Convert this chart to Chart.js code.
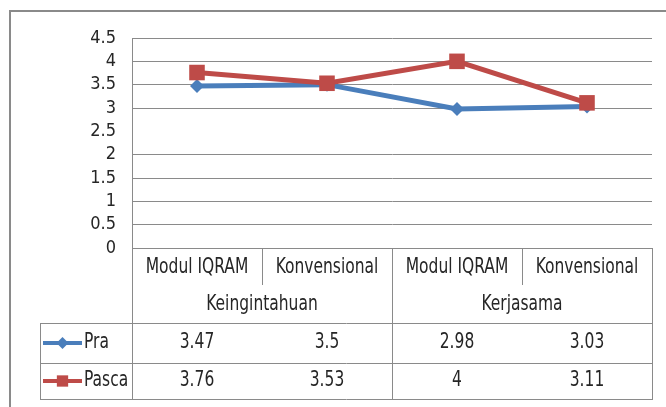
<!DOCTYPE html>
<html><head><meta charset="utf-8">
<script src="https://cdn.jsdelivr.net/npm/chart.js@4/dist/chart.umd.min.js"></script>
<style>html,body{margin:0;padding:0;background:#fff;}#wrap{position:relative;width:666px;height:407px;}</style>
</head><body><div id="wrap"><canvas id="c" width="666" height="407"></canvas></div>
<script>
const groups = ['Keingintahuan', 'Kerjasama'];
const categories = ['Modul IQRAM', 'Konvensional', 'Modul IQRAM', 'Konvensional'];
const seriesNames = ['Pra', 'Pasca'];
const praValues = [3.47, 3.5, 2.98, 3.03];
const pascaValues = [3.76, 3.53, 4, 3.11];
const yTicks = [0, 0.5, 1, 1.5, 2, 2.5, 3, 3.5, 4, 4.5];

const FONT = "'Liberation Sans Narrow','Arial Narrow','DejaVu Sans Condensed',sans-serif";
const BLUE = '#4A7EBB';
const RED = '#BE4B48';
const GRID = '#8a8a8a';
const TEXT = '#262626';
const SQ = 0.82; // horizontal squeeze of table text

function drawMarker(ctx, style, x, y, r, color) {
  ctx.save();
  ctx.fillStyle = color;
  ctx.beginPath();
  if (style === 'rectRot') {
    ctx.moveTo(x - r, y); ctx.lineTo(x, y - r); ctx.lineTo(x + r, y); ctx.lineTo(x, y + r); ctx.closePath();
  } else {
    const s = Math.SQRT1_2 * r;
    ctx.rect(x - s, y - s, 2 * s, 2 * s);
  }
  ctx.fill();
  ctx.restore();
}

function squeezedText(ctx, txt, x, y) {
  ctx.save();
  ctx.translate(x, y);
  ctx.scale(SQ, 1);
  ctx.fillText(txt, 0, 0);
  ctx.restore();
}

const tablePlugin = {
  id: 'tablePlugin',
  beforeDraw(chart) {
    const ctx = chart.ctx;
    ctx.save();
    ctx.strokeStyle = GRID;
    ctx.lineWidth = 2;
    ctx.strokeRect(10, 11, 720, 480);
    ctx.restore();
  },
  afterDraw(chart) {
    const ctx = chart.ctx;
    const a = chart.chartArea;
    const x = chart.scales.x;
    const n = categories.length;
    const half = (x.getPixelForValue(1) - x.getPixelForValue(0)) / 2;
    const edges = [];
    for (let i = 0; i < n; i++) edges.push(Math.round(x.getPixelForValue(i) - half));
    edges.push(Math.round(x.getPixelForValue(n - 1) + half));
    const top = Math.round(a.bottom);
    const catBottom = top + 37, grpBottom = top + 75, praBottom = top + 115, pasBottom = top + 151;
    const legLeft = 40;

    ctx.save();
    ctx.strokeStyle = GRID;
    ctx.lineWidth = 1;
    const h = (x1, x2, y) => { ctx.beginPath(); ctx.moveTo(x1, y + 0.5); ctx.lineTo(x2, y + 0.5); ctx.stroke(); };
    const v = (xx, y1, y2) => { ctx.beginPath(); ctx.moveTo(xx + 0.5, y1); ctx.lineTo(xx + 0.5, y2); ctx.stroke(); };
    v(edges[0], top, pasBottom + 1);
    v(edges[n], top, pasBottom + 1);
    const perGroup = n / groups.length;
    for (let i = 1; i < n; i++) {
      if (i % perGroup === 0) v(edges[i], top, pasBottom + 1);
      else v(edges[i], top, catBottom);
    }
    v(legLeft, grpBottom, pasBottom + 1);
    h(legLeft, edges[n] + 1, grpBottom);
    h(legLeft, edges[n] + 1, praBottom);
    h(legLeft, edges[n] + 1, pasBottom);

    ctx.fillStyle = TEXT;
    ctx.font = '21px ' + FONT;
    ctx.textAlign = 'center';
    ctx.textBaseline = 'middle';
    for (let i = 0; i < n; i++) {
      const cx = x.getPixelForValue(i);
      squeezedText(ctx, categories[i], cx, top + 20);
      squeezedText(ctx, String(praValues[i]), cx, top + 95);
      squeezedText(ctx, String(pascaValues[i]), cx, top + 133);
    }
    for (let g = 0; g < groups.length; g++) {
      const cx = (edges[g * perGroup] + edges[(g + 1) * perGroup]) / 2;
      squeezedText(ctx, groups[g], cx, top + 57);
    }
    const keys = [
      { name: seriesNames[0], color: BLUE, style: 'rectRot', r: 6, y: top + 95 },
      { name: seriesNames[1], color: RED, style: 'rect', r: 8, y: top + 133 }
    ];
    keys.forEach(k => {
      ctx.strokeStyle = k.color;
      ctx.lineWidth = 4;
      ctx.beginPath(); ctx.moveTo(43, k.y); ctx.lineTo(82, k.y); ctx.stroke();
      drawMarker(ctx, k.style, 62.5, k.y, k.r, k.color);
      ctx.fillStyle = TEXT;
      ctx.textAlign = 'left';
      squeezedText(ctx, k.name, 84, k.y);
    });
    ctx.restore();
  }
};

new Chart(document.getElementById('c'), {
  type: 'line',
  data: {
    labels: categories,
    datasets: [
      { label: seriesNames[0], data: praValues, borderColor: BLUE, backgroundColor: BLUE, borderWidth: 5,
        pointStyle: 'rectRot', pointRadius: 7, pointBorderWidth: 0, tension: 0, order: 1 },
      { label: seriesNames[1], data: pascaValues, borderColor: RED, backgroundColor: RED, borderWidth: 5,
        pointStyle: 'rect', pointRadius: 11, pointBorderWidth: 0, tension: 0, order: 0 }
    ]
  },
  options: {
    responsive: false,
    animation: false,
    devicePixelRatio: 1,
    layout: { padding: { left: 0, top: 38, right: 14, bottom: 159 } },
    plugins: { legend: { display: false }, tooltip: { enabled: false } },
    scales: {
      x: { display: false, offset: true },
      y: {
        min: 0, max: 4.5,
        afterBuildTicks: s => { s.ticks = yTicks.map(v => ({ value: v })); },
        afterFit: s => { s.width = 132; },
        border: { display: true, color: GRID, width: 1 },
        grid: { drawTicks: false, lineWidth: 1, color: c => (c.tick && c.tick.value === 2.5) ? 'rgba(0,0,0,0)' : GRID },
        ticks: { autoSkip: false, padding: 16, color: TEXT, font: { family: FONT, size: 18 }, callback: v => String(v) }
      }
    }
  },
  plugins: [tablePlugin]
});
</script></body></html>
